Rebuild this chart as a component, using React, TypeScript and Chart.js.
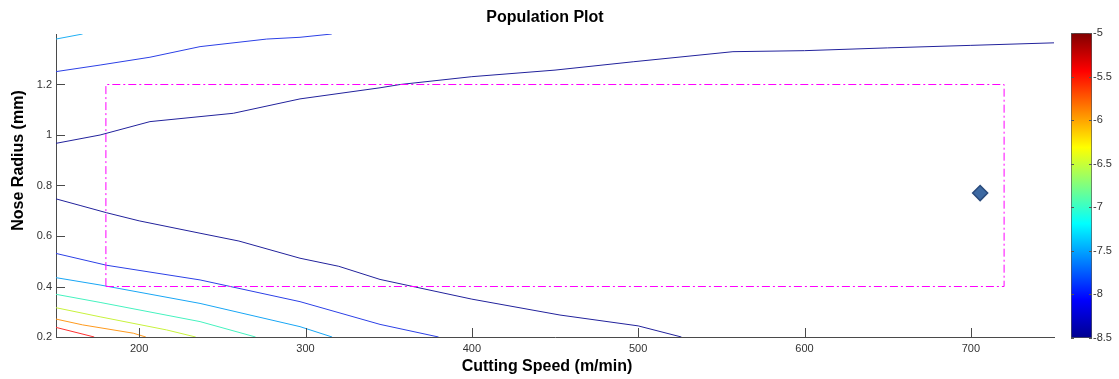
import React, { useEffect, useRef } from "react";
import { Chart, registerables } from "chart.js";

Chart.register(...registerables);

// ---- data ----
const chartTitle = "Population Plot";
const xTitle = "Cutting Speed (m/min)";
const yTitle = "Nose Radius (mm)";
const xMin = 150, xMax = 750;
const yMin = 0.2, yMax = 1.4;
const xTicks = [200, 300, 400, 500, 600, 700];
const yTicks = [0.2, 0.4, 0.6, 0.8, 1.0, 1.2];
const cbTicks = [-5, -5.5, -6, -6.5, -7, -7.5, -8, -8.5];
const cbMin = -8.5, cbMax = -5;

// contour lines (cutting speed, nose radius)
const navyUpperX = [150, 176.5, 206.5, 256.6, 296.7, 344.8, 356.9, 400, 450, 497, 557, 600, 650, 700, 750];
const navyUpperY = [0.967, 1.0, 1.053, 1.086, 1.143, 1.187, 1.2, 1.231, 1.257, 1.29, 1.33, 1.334, 1.345, 1.355, 1.365];
const blueUpperX = [150, 176.5, 206.5, 236.6, 276.7, 296.7, 315.8];
const blueUpperY = [1.251, 1.277, 1.308, 1.35, 1.38, 1.387, 1.4];
const cyanUpperX = [150, 166];
const cyanUpperY = [1.38, 1.4];
const navyLowerX = [150, 165, 180.5, 200, 236.6, 260, 296.7, 320, 344.8, 366, 400, 453, 500, 526];
const navyLowerY = [0.747, 0.72, 0.692, 0.66, 0.611, 0.58, 0.512, 0.48, 0.428, 0.398, 0.35, 0.287, 0.244, 0.2];
const blueLowerX = [150, 180.5, 236.6, 296.7, 344.8, 380];
const blueLowerY = [0.531, 0.484, 0.426, 0.34, 0.25, 0.2];
const cyanLowerX = [150, 176.5, 236.6, 296.7, 316];
const cyanLowerY = [0.435, 0.406, 0.333, 0.241, 0.2];
const mintX = [150, 176.5, 236.6, 270];
const mintY = [0.369, 0.337, 0.261, 0.2];
const limeX = [150, 176.5, 216.5, 234];
const limeY = [0.316, 0.28, 0.228, 0.2];
const orangeX = [150, 166, 196.5, 204];
const orangeY = [0.271, 0.248, 0.215, 0.2];
const redX = [150, 173];
const redY = [0.238, 0.2];

// feasible region bounds
const boxX = [180, 720, 720, 180, 180];
const boxY = [0.4, 0.4, 1.2, 1.2, 0.4];

// population point
const popX = [705.6];
const popY = [0.77];

const pts = (xs: number[], ys: number[]) => xs.map((x, i) => ({ x, y: ys[i] }));

const FONT = "'Liberation Sans', Arial, Helvetica, sans-serif";

const contour = (xs: number[], ys: number[], color: string) => ({
  data: pts(xs, ys),
  showLine: true,
  borderColor: color,
  backgroundColor: color,
  borderWidth: 1,
  pointRadius: 0,
  tension: 0,
  order: 3,
});

const fmt = (v: any) => String(Number(v));

const inwardTicks = {
  id: "inwardTicks",
  afterDraw(chart: any) {
    const { ctx, chartArea, scales } = chart;
    ctx.save();
    ctx.strokeStyle = "#4a4a4a";
    ctx.lineWidth = 1;
    scales.x.ticks.forEach((t: any) => {
      const px = Math.round(scales.x.getPixelForValue(t.value)) + 0.5;
      ctx.beginPath();
      ctx.moveTo(px, chartArea.bottom);
      ctx.lineTo(px, chartArea.bottom - 9);
      ctx.stroke();
    });
    scales.y.ticks.forEach((t: any) => {
      const py = Math.round(scales.y.getPixelForValue(t.value)) + 0.5;
      ctx.beginPath();
      ctx.moveTo(chartArea.left, py);
      ctx.lineTo(chartArea.left + 9, py);
      ctx.stroke();
    });
    ctx.restore();
  },
};

const titlesPlugin = {
  id: "titlesPlugin",
  afterDraw(chart: any) {
    const { ctx, chartArea } = chart;
    const cx = (chartArea.left + chartArea.right) / 2;
    const cy = (chartArea.top + chartArea.bottom) / 2;
    ctx.save();
    ctx.fillStyle = "#000";
    ctx.font = `bold 16px ${FONT}`;
    ctx.textAlign = "center";
    ctx.textBaseline = "middle";
    ctx.fillText(chartTitle, cx - 10, chartArea.top - 16);
    ctx.fillText(xTitle, cx - 8, chartArea.bottom + 30);
    ctx.translate(chartArea.left - 37, cy - 25);
    ctx.rotate(-Math.PI / 2);
    ctx.fillText(yTitle, 0, 0);
    ctx.restore();
  },
};

const cbTickMarks = {
  id: "cbTickMarks",
  afterDraw(chart: any) {
    const { ctx, chartArea, scales } = chart;
    ctx.save();
    ctx.strokeStyle = "#555";
    ctx.lineWidth = 1;
    scales.y.ticks.forEach((t: any) => {
      const py = Math.round(scales.y.getPixelForValue(t.value)) + 0.5;
      ctx.beginPath();
      ctx.moveTo(chartArea.left, py);
      ctx.lineTo(chartArea.left + 3, py);
      ctx.moveTo(chartArea.right, py);
      ctx.lineTo(chartArea.right - 3, py);
      ctx.stroke();
    });
    ctx.restore();
  },
};

export default function App() {
  const mainRef = useRef<HTMLCanvasElement>(null);
  const cbRef = useRef<HTMLCanvasElement>(null);

  useEffect(() => {
    const main = new Chart(mainRef.current!, {
      type: "scatter",
      data: {
        datasets: [
          {
            data: pts(popX, popY),
            pointStyle: "rectRot",
            pointRadius: 7.5,
            backgroundColor: "#3d69a2",
            borderColor: "#2a4a7c",
            borderWidth: 1.5,
            order: 0,
          } as any,
          {
            data: pts(boxX, boxY),
            showLine: true,
            borderColor: "#ff00ff",
            borderWidth: 1,
            borderDash: [8, 3, 2, 3],
            pointRadius: 0,
            order: 1,
          },
          contour(navyUpperX, navyUpperY, "#22229c"),
          contour(blueUpperX, blueUpperY, "#2c40e6"),
          contour(cyanUpperX, cyanUpperY, "#20b0f5"),
          contour(navyLowerX, navyLowerY, "#22229c"),
          contour(blueLowerX, blueLowerY, "#2c40e6"),
          contour(cyanLowerX, cyanLowerY, "#18a6f5"),
          contour(mintX, mintY, "#45f2bf"),
          contour(limeX, limeY, "#c8f23c"),
          contour(orangeX, orangeY, "#ff9a1e"),
          contour(redX, redY, "#ff3030"),
        ],
      },
      options: {
        animation: false,
        responsive: false,
        devicePixelRatio: 1,
        layout: { padding: { left: 0, right: 65, top: 34, bottom: 0 } },
        plugins: {
          legend: { display: false },
          tooltip: { enabled: false },
          title: { display: false },
        },
        scales: {
          x: {
            type: "linear",
            min: xMin,
            max: xMax,
            grid: { display: false, drawTicks: false },
            border: { display: true, color: "#4a4a4a", width: 1 },
            afterBuildTicks: (s: any) => {
              s.ticks = xTicks.map((v) => ({ value: v }));
            },
            afterFit: (s: any) => {
              s.height = 42;
            },
            ticks: {
              color: "#333",
              font: { family: FONT, size: 11 },
              padding: 5,
              maxRotation: 0,
              callback: fmt,
            },
          },
          y: {
            type: "linear",
            min: yMin,
            max: yMax,
            grid: { display: false, drawTicks: false },
            border: { display: true, color: "#4a4a4a", width: 1 },
            afterBuildTicks: (s: any) => {
              s.ticks = yTicks.map((v) => ({ value: v }));
            },
            afterFit: (s: any) => {
              s.width = 56;
            },
            ticks: {
              color: "#333",
              font: { family: FONT, size: 11 },
              padding: 4,
              callback: fmt,
            },
          },
        },
      },
      plugins: [inwardTicks, titlesPlugin],
    } as any);

    const jet = (c: any) => {
      const area = c.chart.chartArea;
      if (!area) return "#0000ff";
      const g = c.chart.ctx.createLinearGradient(0, area.bottom, 0, area.top);
      g.addColorStop(0, "#00008f");
      g.addColorStop(0.125, "#0000ff");
      g.addColorStop(0.375, "#00ffff");
      g.addColorStop(0.625, "#ffff00");
      g.addColorStop(0.875, "#ff0000");
      g.addColorStop(1, "#800000");
      return g;
    };

    const cb = new Chart(cbRef.current!, {
      type: "bar",
      data: {
        labels: [""],
        datasets: [
          {
            data: [[cbMin, cbMax]],
            backgroundColor: jet,
            borderColor: "#555",
            borderWidth: 1,
            borderSkipped: false,
            barPercentage: 1,
            categoryPercentage: 1,
          } as any,
        ],
      },
      options: {
        animation: false,
        responsive: false,
        devicePixelRatio: 1,
        layout: { padding: { left: 11, top: 33, bottom: 41, right: 0 } },
        plugins: { legend: { display: false }, tooltip: { enabled: false } },
        scales: {
          x: { display: false },
          y: {
            position: "right",
            min: cbMin,
            max: cbMax,
            grid: { display: false, drawTicks: false },
            border: { display: false },
            afterBuildTicks: (s: any) => {
              s.ticks = cbTicks.map((v) => ({ value: v }));
            },
            afterFit: (s: any) => {
              s.width = 27;
            },
            ticks: {
              color: "#333",
              font: { family: FONT, size: 11 },
              padding: 1,
              callback: fmt,
            },
          },
        },
      },
      plugins: [cbTickMarks],
    } as any);

    return () => {
      main.destroy();
      cb.destroy();
    };
  }, []);

  return (
    <div style={{ position: "absolute", left: 0, top: 0, width: 1119, height: 379, background: "#fff" }}>
      <canvas ref={mainRef} width={1119} height={379} style={{ position: "absolute", left: 0, top: 0, width: 1119, height: 379 }} />
      <canvas ref={cbRef} width={59} height={379} style={{ position: "absolute", left: 1060, top: 0, width: 59, height: 379 }} />
    </div>
  );
}
